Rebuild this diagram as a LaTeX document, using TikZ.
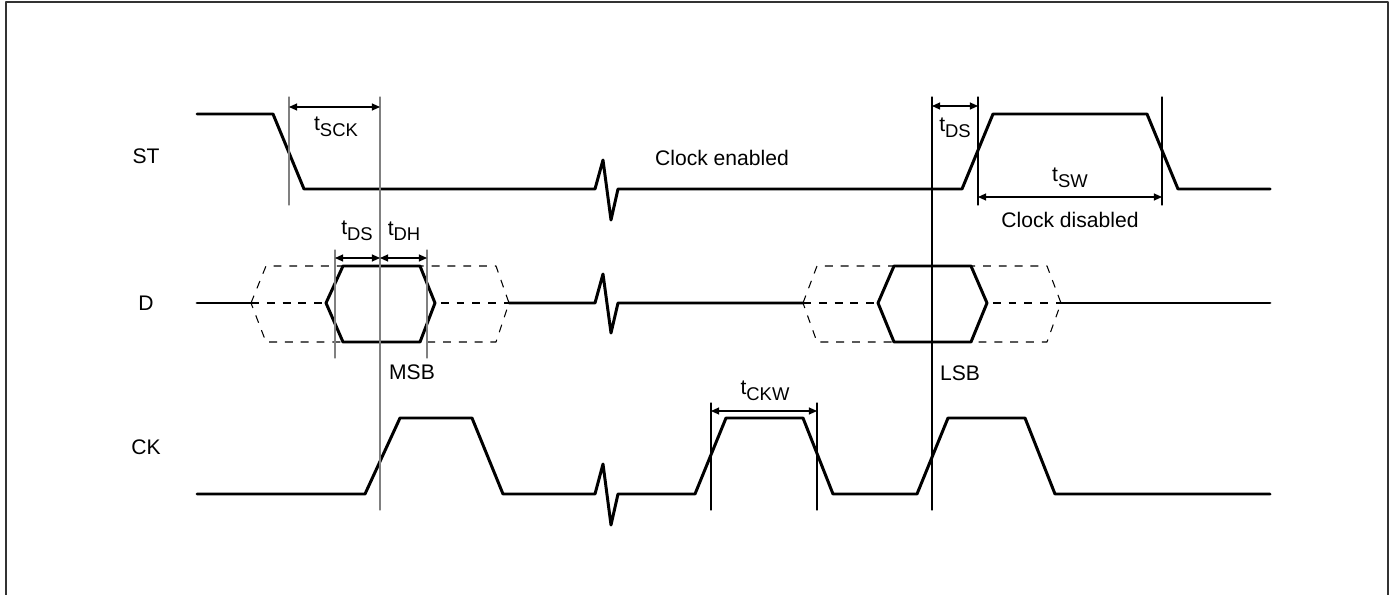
\documentclass[tikz,border=0pt]{standalone}
\usepackage{fontspec}
\setmainfont{Liberation Sans}
\usetikzlibrary{arrows.meta}
\newcommand{\tsub}[1]{t\raisebox{-3.2pt}{\fontsize{10.5}{12}\selectfont #1}}

\begin{document}
\begin{tikzpicture}[line cap=round,line join=round,>={Triangle[length=4.6pt,width=4pt]},x=0.02cm,y=-0.02cm,font=\fontsize{12}{14}\selectfont]
\clip(0,0) rectangle (1394,595);
\tikzset{sig/.style={line width=1.7pt},
  guide/.style={line width=0.6pt,gray},
  mark line/.style={line width=0.6pt},
  dashhex/.style={line width=0.6pt,dash pattern=on 4.5pt off 4.5pt,line cap=butt}}
% frame
\draw [line width=1.2pt,gray!40!black] (6,600)-- (6,2)-- (1388,2)-- (1388,600);
% ST
\draw [sig] (197,114)-- (273,114)-- (304,189)-- (595,189)-- (603,160)-- (611,220)-- (618,189)-- (962,189)-- (993,114)-- (1147,114)-- (1178,189)-- (1270,189);
% D, first word
\draw [dashhex] (251,303)-- (266,266)-- (496,266)-- (509,303)-- (496,342)-- (266,342)-- cycle;
\draw [dashhex] (251,303)-- (509,303);
\draw [sig,fill=white] (326,303)-- (343,266)-- (420,266)-- (435,303)-- (420,342)-- (343,342)-- cycle;
\draw [sig] (197,303)-- (251,303);
\draw [sig] (509,303)-- (595,303)-- (603,274)-- (611,333)-- (618,303)-- (803,303);
% D, last word
\draw [dashhex] (803,303)-- (817,266)-- (1047,266)-- (1061,303)-- (1047,342)-- (817,342)-- cycle;
\draw [dashhex] (803,303)-- (1061,303);
\draw [sig,fill=white] (878,303)-- (894,266)-- (971,266)-- (987,303)-- (971,342)-- (894,342)-- cycle;
\draw [sig] (1061,303)-- (1270,303);
% CK
\draw [sig] (197,494)-- (365,494)-- (400,418)-- (472,418)-- (503,494)-- (595,494)-- (603,464)-- (611,525)-- (618,494)-- (695,494)-- (726,418)-- (803,418)-- (833,494)-- (917,494)-- (948,418)-- (1025,418)-- (1055,494)-- (1270,494);
% timing lines
\draw [guide] (289,97)-- (289,205);
\draw [guide] (380,97)-- (380,510);
\draw [guide] (335,250)-- (335,358);
\draw [guide] (427,250)-- (427,358);
\draw [mark line] (932,97)-- (932,510);
\draw [mark line] (978,97)-- (978,205);
\draw [mark line] (1162,97)-- (1162,205);
\draw [mark line] (711,403)-- (711,510);
\draw [mark line] (817,403)-- (817,510);
% dimensions
\draw [mark line,<->] (289,107)-- (380,107);
\draw [mark line,<->] (335,258)-- (380,258);
\draw [mark line,<->] (380,258)-- (427,258);
\draw [mark line,<->] (932,106)-- (978,106);
\draw [mark line,<->] (978,197)-- (1162,197);
\draw [mark line,<->] (711,411)-- (817,411);
% labels
\node (st) at (146,156) {ST};
\node (d) at (146,303) {D};
\node (ck) at (146,447) {CK};
\node (tsck) at (336,127) {\tsub{SCK}};
\node (tds1) at (357,231) {\tsub{DS}};
\node (tdh) at (404,231) {\tsub{DH}};
\node (tds2) at (955,128) {\tsub{DS}};
\node (tsw) at (1070,178) {\tsub{SW}};
\node (tckw) at (765,391) {\tsub{CKW}};
\node (enab) at (722,158) {Clock enabled};
\node (disab) at (1070,220) {Clock disabled};
\node (msb) at (412,372) {MSB};
\node (lsb) at (960,373) {LSB};
\end{tikzpicture}
\end{document}
